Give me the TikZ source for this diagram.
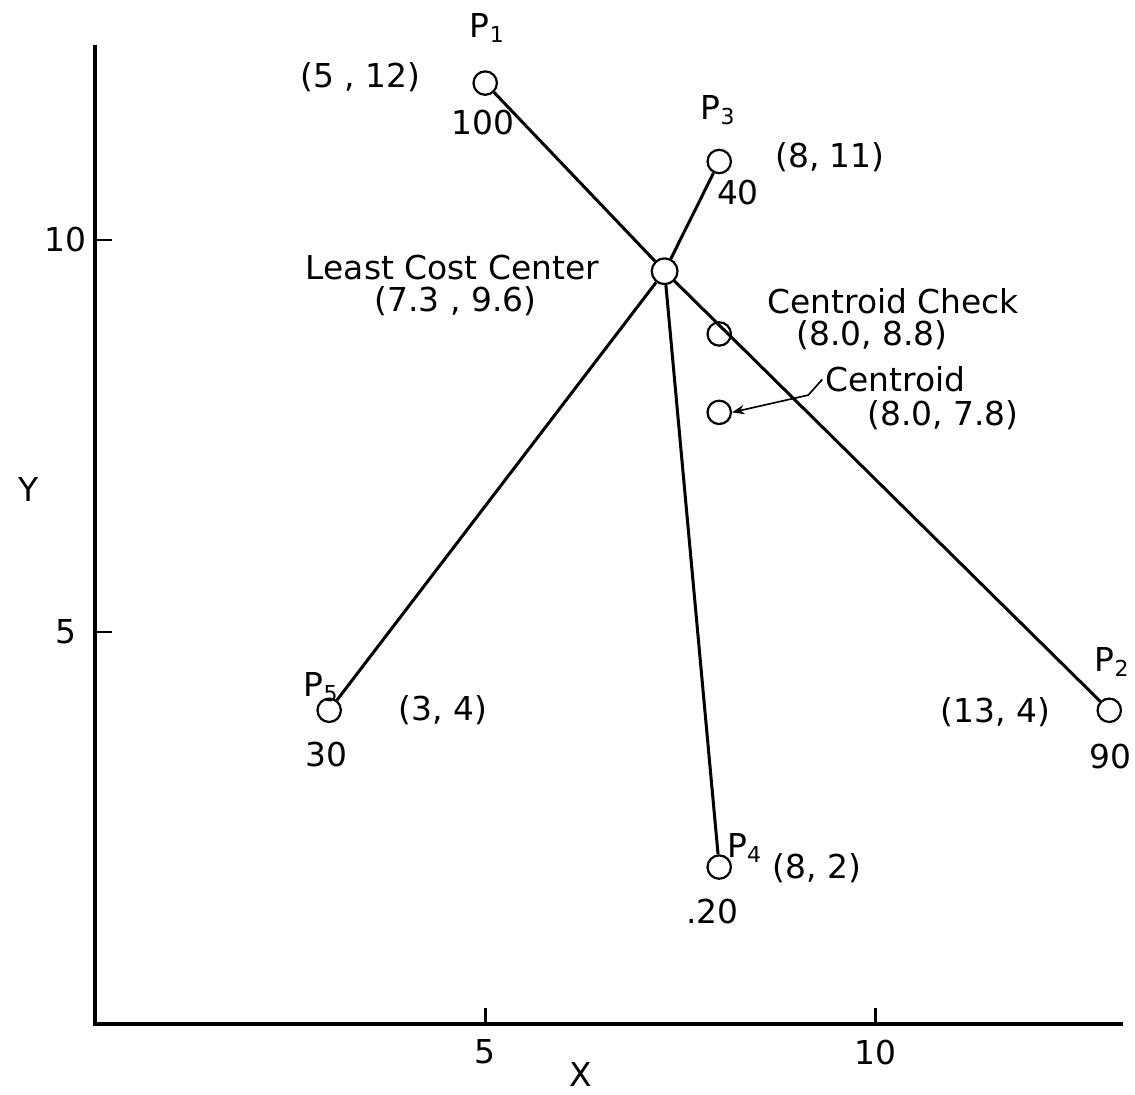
\documentclass[tikz,border=0pt]{standalone}
\usepackage{fontspec}
\setmainfont{DejaVu Sans}
\usetikzlibrary{arrows.meta, positioning, calc}

\begin{document}
\begin{tikzpicture}[
    x=1cm, y=1.005cm,
    font=\fontsize{12}{14}\selectfont,
    site/.style={circle, draw, line width=0.8pt, inner sep=0pt, minimum size=0.3cm},
    center/.style={circle, draw, line width=0.8pt, fill=white, inner sep=0pt, minimum size=0.33cm},
    axis/.style={line width=1.5pt},
    link/.style={line width=1.1pt},
    lbl/.style={inner sep=1pt}
]
\useasboundingbox (-1.22,-0.906) rectangle (13.33,13.06);

% Axes
\coordinate (o) at (0,0);
\coordinate (xend) at (13.17,0);
\coordinate (yend) at (0,12.49);
\draw[axis] (yend) -- (o) -- (xend);
\foreach \v in {5,10} {
  \draw[line width=1pt] (\v,0) -- (\v,0.2);
  \node[lbl] (xt\v) at (\v,-0.36) {\v};
  \draw[line width=1pt] (0,\v) -- (0.22,\v);
  \node[lbl] (yt\v) at (-0.38,\v) {\v};
}
\node[lbl] (xlab) at (6.22,-0.65) {X};
\node[lbl] (ylab) at (-0.86,6.81) {Y};

% Sites
\node[site] (p1) at (5,12) {};
\node[site] (p2) at (13,4) {};
\node[site] (p3) at (8,11) {};
\node[site] (p4) at (8,2) {};
\node[site] (p5) at (3,4) {};
\node[center] (lcc) at (7.3,9.6) {};
\node[site] (cc) at (8.0,8.8) {};
\node[site] (cen) at (8.0,7.8) {};

% Links to the least cost center
\draw[link] (lcc) -- (p1);
\draw[link] (lcc) -- (p2);
\draw[link] (lcc) -- (p3);
\draw[link] (lcc) -- (p4);
\draw[link] (lcc) -- (p5);

% Site labels
\node[lbl] (p1name) at (5.03,12.70) {P\textsubscript{1}};
\node[lbl] (p1xy) at (3.40,12.07) {(5 , 12)};
\node[lbl] (p1w) at (4.97,11.50) {100};
\node[lbl] (p2name) at (13.04,4.62) {P\textsubscript{2}};
\node[lbl] (p2xy) at (11.54,3.98) {(13, 4)};
\node[lbl] (p2w) at (13.01,3.41) {90};
\node[lbl] (p3name) at (7.99,11.65) {P\textsubscript{3}};
\node[lbl] (p3xy) at (9.42,11.05) {(8, 11)};
\node[lbl] (p3w) at (8.24,10.61) {40};
\node[lbl] (p4name) at (8.33,2.24) {P\textsubscript{4}};
\node[lbl] (p4xy) at (9.25,1.99) {(8, 2)};
\node[lbl] (p4w) at (7.91,1.43) {.20};
\node[lbl] (p5name) at (2.90,4.30) {P\textsubscript{5}};
\node[lbl] (p5xy) at (4.46,4.00) {(3, 4)};
\node[lbl] (p5w) at (2.97,3.43) {30};

% Center labels
\node[lbl] (lccname) at (4.58,9.65) {Least Cost Center};
\node[lbl] (lccxy) at (4.62,9.22) {(7.3 , 9.6)};
\node[lbl] (ccname) at (10.23,9.22) {Centroid Check};
\node[lbl] (ccxy) at (9.96,8.78) {(8.0, 8.8)};
\node[lbl] (cenname) at (10.26,8.22) {Centroid};
\node[lbl] (cenxy) at (10.87,7.76) {(8.0, 7.8)};
\draw[line width=0.6pt, -{Stealth[length=1.6mm]}] (cenname.west) -- ++(-0.18,-0.2) -- (cen.east);
\end{tikzpicture}
\end{document}
